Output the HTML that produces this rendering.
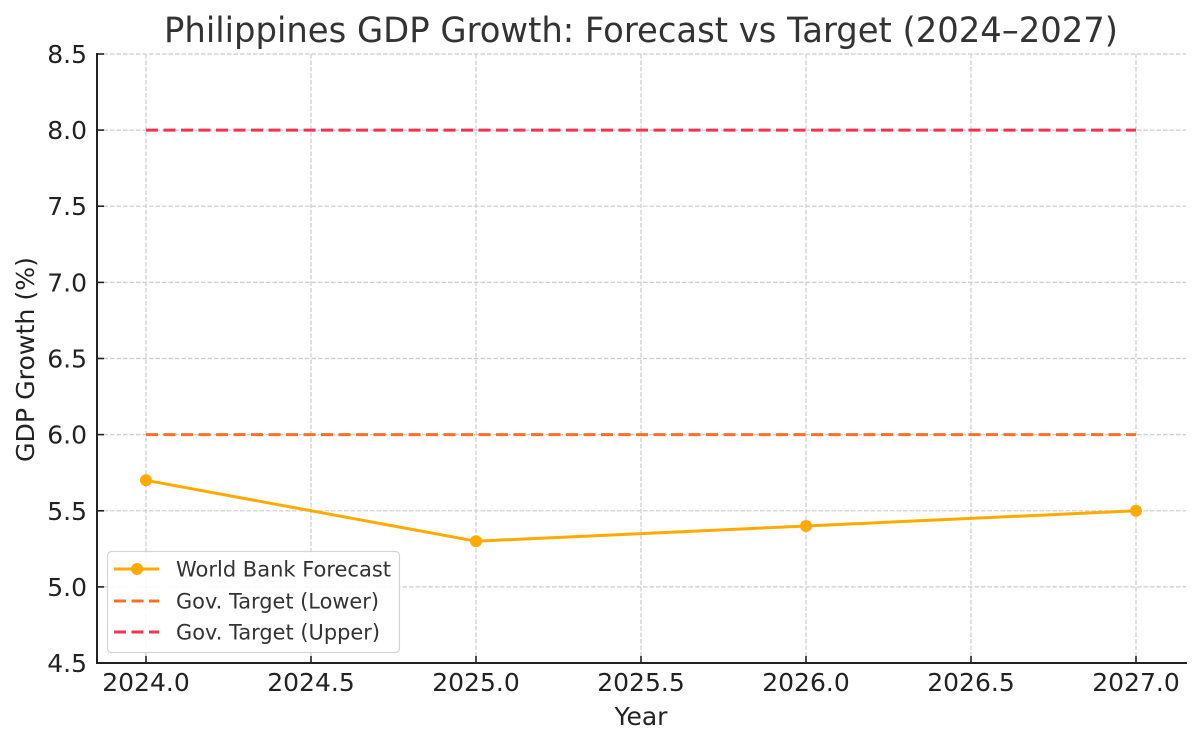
<!DOCTYPE html>
<html>
<head>
<meta charset="utf-8">
<style>
  html,body{margin:0;padding:0;background:#fff;}
  svg{display:block;}
  text{font-family:"DejaVu Sans","Liberation Sans",sans-serif;}
</style>
</head>
<body>
<svg width="1200" height="745" viewBox="0 0 1200 745" xmlns="http://www.w3.org/2000/svg">
  <rect width="1200" height="745" fill="#fff"/>
  <!-- Title -->
  <text x="641" y="42" font-size="35" fill="#333" text-anchor="middle" textLength="954" lengthAdjust="spacingAndGlyphs">Philippines GDP Growth: Forecast vs Target (2024–2027)</text>

  <!-- grid -->
  <g stroke="#cccccc" stroke-width="1.2" stroke-dasharray="4.5 2" fill="none">
    <line x1="97" y1="54" x2="1186" y2="54"/>
    <line x1="97" y1="130.1" x2="1186" y2="130.1"/>
    <line x1="97" y1="206.2" x2="1186" y2="206.2"/>
    <line x1="97" y1="282.4" x2="1186" y2="282.4"/>
    <line x1="97" y1="358.5" x2="1186" y2="358.5"/>
    <line x1="97" y1="434.6" x2="1186" y2="434.6"/>
    <line x1="97" y1="510.8" x2="1186" y2="510.8"/>
    <line x1="97" y1="586.9" x2="1186" y2="586.9"/>
    <line x1="146" y1="54" x2="146" y2="663"/>
    <line x1="311" y1="54" x2="311" y2="663"/>
    <line x1="476" y1="54" x2="476" y2="663"/>
    <line x1="641" y1="54" x2="641" y2="663"/>
    <line x1="806" y1="54" x2="806" y2="663"/>
    <line x1="971" y1="54" x2="971" y2="663"/>
    <line x1="1136" y1="54" x2="1136" y2="663"/>
  </g>

  <!-- target lines -->
  <line x1="146" y1="130.1" x2="1136" y2="130.1" stroke="#F0344F" stroke-width="3" stroke-dasharray="12 5.5"/>
  <line x1="146" y1="434.6" x2="1136" y2="434.6" stroke="#F7702A" stroke-width="3" stroke-dasharray="12 5.5"/>

  <!-- forecast -->
  <polyline points="146,480.3 476,541.2 806,526 1136,510.8" fill="none" stroke="#FFAA00" stroke-width="3" stroke-linejoin="round"/>
  <g fill="#FFAA00">
    <circle cx="146" cy="480.3" r="6"/>
    <circle cx="476" cy="541.2" r="6"/>
    <circle cx="806" cy="526" r="6"/>
    <circle cx="1136" cy="510.8" r="6"/>
  </g>

  <!-- spines -->
  <line x1="97" y1="53" x2="97" y2="664" stroke="#222" stroke-width="2"/>
  <line x1="96" y1="663" x2="1187" y2="663" stroke="#222" stroke-width="2"/>

  <!-- ticks -->
  <g stroke="#222" stroke-width="1.6">
    <line x1="97" y1="54" x2="104" y2="54"/>
    <line x1="97" y1="130.1" x2="104" y2="130.1"/>
    <line x1="97" y1="206.2" x2="104" y2="206.2"/>
    <line x1="97" y1="282.4" x2="104" y2="282.4"/>
    <line x1="97" y1="358.5" x2="104" y2="358.5"/>
    <line x1="97" y1="434.6" x2="104" y2="434.6"/>
    <line x1="97" y1="510.8" x2="104" y2="510.8"/>
    <line x1="97" y1="586.9" x2="104" y2="586.9"/>
    <line x1="97" y1="663" x2="104" y2="663"/>
    <line x1="146" y1="663" x2="146" y2="656"/>
    <line x1="311" y1="663" x2="311" y2="656"/>
    <line x1="476" y1="663" x2="476" y2="656"/>
    <line x1="641" y1="663" x2="641" y2="656"/>
    <line x1="806" y1="663" x2="806" y2="656"/>
    <line x1="971" y1="663" x2="971" y2="656"/>
    <line x1="1136" y1="663" x2="1136" y2="656"/>
  </g>

  <!-- y tick labels -->
  <g font-size="25" fill="#222" text-anchor="end">
    <text x="87" y="63">8.5</text>
    <text x="87" y="139.1">8.0</text>
    <text x="87" y="215.2">7.5</text>
    <text x="87" y="291.4">7.0</text>
    <text x="87" y="367.5">6.5</text>
    <text x="87" y="443.6">6.0</text>
    <text x="87" y="519.8">5.5</text>
    <text x="87" y="595.9">5.0</text>
    <text x="87" y="672">4.5</text>
  </g>

  <!-- x tick labels -->
  <g font-size="25" fill="#222" text-anchor="middle">
    <text x="146" y="691">2024.0</text>
    <text x="311" y="691">2024.5</text>
    <text x="476" y="691">2025.0</text>
    <text x="641" y="691">2025.5</text>
    <text x="806" y="691">2026.0</text>
    <text x="971" y="691">2026.5</text>
    <text x="1136" y="691">2027.0</text>
  </g>

  <!-- axis labels -->
  <text x="641" y="725" font-size="25" fill="#222" text-anchor="middle">Year</text>
  <text transform="translate(34,359.5) rotate(-90)" font-size="25" fill="#222" text-anchor="middle" textLength="205" lengthAdjust="spacingAndGlyphs">GDP Growth (%)</text>

  <!-- legend -->
  <rect x="107.5" y="551.5" width="292" height="101" rx="4" ry="4" fill="#fff" fill-opacity="0.85" stroke="#d4d4d4" stroke-width="1.2"/>
  <line x1="114" y1="569" x2="159" y2="569" stroke="#FFAA00" stroke-width="3"/>
  <circle cx="137" cy="569" r="6" fill="#FFAA00"/>
  <line x1="114" y1="601" x2="159" y2="601" stroke="#F7702A" stroke-width="3" stroke-dasharray="12 5.5"/>
  <line x1="114" y1="632" x2="159" y2="632" stroke="#F0344F" stroke-width="3" stroke-dasharray="12 5.5"/>
  <g font-size="21" fill="#333">
    <text x="176" y="576.5" textLength="215" lengthAdjust="spacingAndGlyphs">World Bank Forecast</text>
    <text x="176" y="608.5" textLength="203" lengthAdjust="spacingAndGlyphs">Gov. Target (Lower)</text>
    <text x="176" y="639.5" textLength="204" lengthAdjust="spacingAndGlyphs">Gov. Target (Upper)</text>
  </g>
</svg>
</body>
</html>
